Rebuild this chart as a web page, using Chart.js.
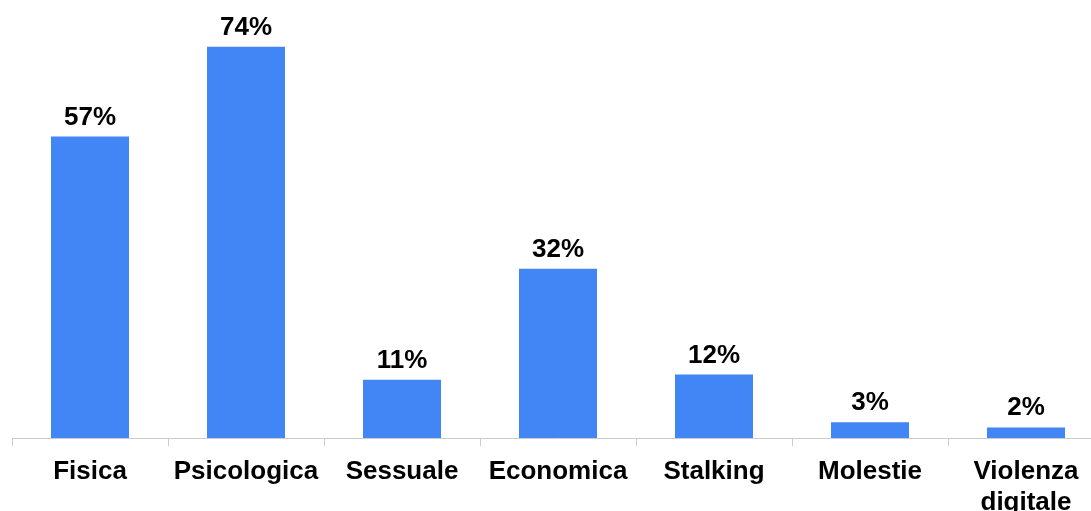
<!DOCTYPE html>
<html>
<head>
<meta charset="utf-8">
<script src="https://cdn.jsdelivr.net/npm/chart.js@4/dist/chart.umd.min.js"></script>
<style>
html,body{margin:0;padding:0;background:#fff;overflow:hidden;width:1091px;height:511px;}
#wrap{position:relative;width:1104px;height:511px;}
</style>
</head>
<body>
<div id="wrap"><canvas id="c"></canvas></div>
<script>
const categories = ["Fisica", "Psicologica", "Sessuale", "Economica", "Stalking", "Molestie", ["Violenza", "digitale"]];
const values = [57, 74, 11, 32, 12, 3, 2];
const valueLabels = ["57%", "74%", "11%", "32%", "12%", "3%", "2%"];

const FONT = '"Liberation Sans", Arial, sans-serif';

const valueLabelPlugin = {
  id: 'valueLabels',
  afterDatasetsDraw(chart) {
    const ctx = chart.ctx;
    const meta = chart.getDatasetMeta(0);
    ctx.save();
    ctx.font = 'bold 26px ' + FONT;
    ctx.fillStyle = '#000';
    ctx.textAlign = 'center';
    ctx.textBaseline = 'alphabetic';
    meta.data.forEach((bar, i) => {
      ctx.fillText(valueLabels[i], bar.x, bar.y - 12);
    });
    ctx.restore();
  }
};

new Chart(document.getElementById('c'), {
  type: 'bar',
  data: {
    labels: categories,
    datasets: [{
      data: values,
      backgroundColor: '#4285f4',
      borderWidth: 0,
      categoryPercentage: 0.5,
      barPercentage: 1.0
    }]
  },
  options: {
    responsive: true,
    maintainAspectRatio: false,
    animation: false,
    layout: { padding: { left: 12, right: 0, top: 15, bottom: 0 } },
    plugins: { legend: { display: false }, tooltip: { enabled: false } },
    scales: {
      y: {
        display: false,
        min: 0,
        max: 80
      },
      x: {
        grid: {
          display: true,
          drawOnChartArea: false,
          drawTicks: true,
          tickLength: 8,
          color: '#cccccc',
          offset: true
        },
        border: { display: true, color: '#cccccc', width: 1 },
        ticks: {
          color: '#000',
          font: { family: FONT, size: 26, weight: 'bold', lineHeight: 1.2 },
          padding: 10,
          maxRotation: 0,
          autoSkip: false
        },
        afterFit(scale) { scale.height = 73; }
      }
    }
  },
  plugins: [valueLabelPlugin]
});
</script>
</body>
</html>
